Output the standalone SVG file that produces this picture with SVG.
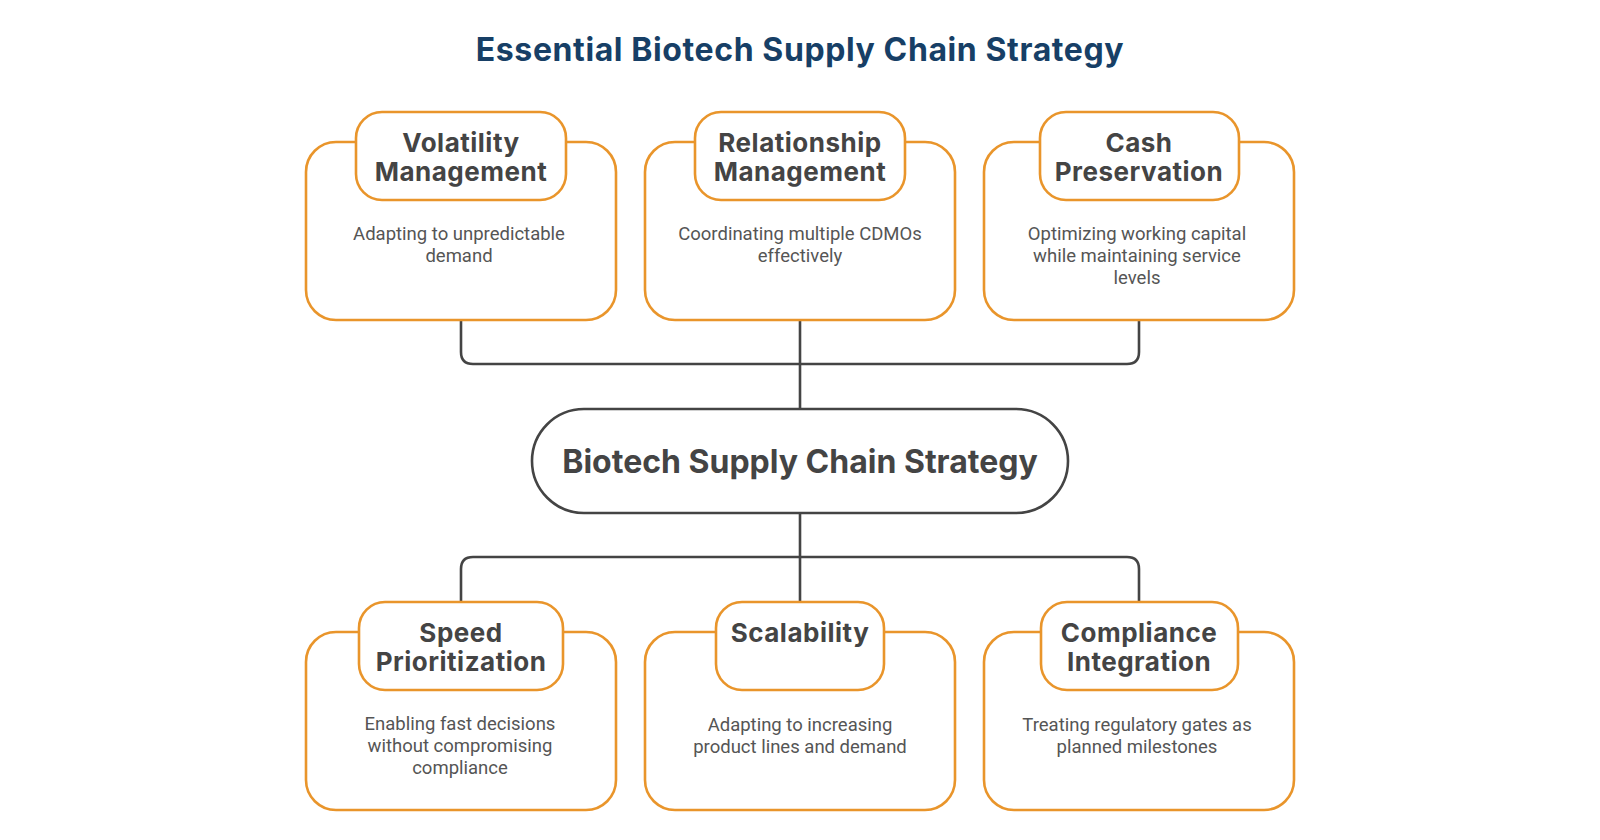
<svg xmlns="http://www.w3.org/2000/svg" width="1600" height="840" viewBox="0 0 1600 840">
<style>
.bg{fill:#ffffff}
.title{font-family:Inter,"DejaVu Sans",sans-serif;font-weight:700;font-size:32px;fill:#173f66;text-anchor:middle;letter-spacing:0.6px}
.card{fill:#ffffff;stroke:#e9952b;stroke-width:2.6}
.head{fill:#ffffff;stroke:#e9952b;stroke-width:2.6}
.ht{font-family:Inter,"DejaVu Sans",sans-serif;font-weight:700;font-size:26px;fill:#444444;text-anchor:middle;letter-spacing:0.5px}
.dt{font-family:Roboto,"Liberation Sans",sans-serif;font-size:18.5px;fill:#555555;text-anchor:middle}
.hub{fill:#ffffff;stroke:#444444;stroke-width:2.6}
.hubt{font-family:Inter,"DejaVu Sans",sans-serif;font-weight:700;font-size:32px;fill:#444444;text-anchor:middle}
.conn{fill:none;stroke:#444444;stroke-width:2.6}
</style>
<rect class="bg" x="0" y="0" width="1600" height="840"/>
<text class="title" x="800" y="61">Essential Biotech Supply Chain Strategy</text>

<g id="connectors">
<path class="conn" d="M461,320 V352 Q461,364 473,364 H1127 Q1139,364 1139,352 V320"/>
<path class="conn" d="M800,320 V409"/>
<path class="conn" d="M800,513 V602"/>
<path class="conn" d="M461,602 V569 Q461,557 473,557 H1127 Q1139,557 1139,569 V602"/>
</g>

<g id="hub">
<rect class="hub" x="532" y="409" width="536" height="104" rx="52"/>
<text class="hubt" x="800" y="473">Biotech Supply Chain Strategy</text>
</g>

<g id="volatility">
<rect class="card" x="306" y="142" width="310" height="178" rx="30"/>
<rect class="head" x="356" y="112" width="210" height="88" rx="26"/>
<text class="ht" x="461" y="152">Volatility</text>
<text class="ht" x="461" y="181">Management</text>
<text class="dt" x="459" y="240">Adapting to unpredictable</text>
<text class="dt" x="459" y="262">demand</text>
</g>

<g id="relationship">
<rect class="card" x="645" y="142" width="310" height="178" rx="30"/>
<rect class="head" x="695" y="112" width="210" height="88" rx="26"/>
<text class="ht" x="800" y="152">Relationship</text>
<text class="ht" x="800" y="181">Management</text>
<text class="dt" x="800" y="240">Coordinating multiple CDMOs</text>
<text class="dt" x="800" y="262">effectively</text>
</g>

<g id="cash">
<rect class="card" x="984" y="142" width="310" height="178" rx="30"/>
<rect class="head" x="1040" y="112" width="199" height="88" rx="26"/>
<text class="ht" x="1139" y="152">Cash</text>
<text class="ht" x="1139" y="181">Preservation</text>
<text class="dt" x="1137" y="240">Optimizing working capital</text>
<text class="dt" x="1137" y="262">while maintaining service</text>
<text class="dt" x="1137" y="284">levels</text>
</g>

<g id="speed">
<rect class="card" x="306" y="632" width="310" height="178" rx="30"/>
<rect class="head" x="359" y="602" width="204" height="88" rx="26"/>
<text class="ht" x="461" y="642">Speed</text>
<text class="ht" x="461" y="671">Prioritization</text>
<text class="dt" x="460" y="730">Enabling fast decisions</text>
<text class="dt" x="460" y="752">without compromising</text>
<text class="dt" x="460" y="774">compliance</text>
</g>

<g id="scalability">
<rect class="card" x="645" y="632" width="310" height="178" rx="30"/>
<rect class="head" x="716" y="602" width="168" height="88" rx="26"/>
<text class="ht" x="800" y="642">Scalability</text>
<text class="dt" x="800" y="731">Adapting to increasing</text>
<text class="dt" x="800" y="753">product lines and demand</text>
</g>

<g id="compliance">
<rect class="card" x="984" y="632" width="310" height="178" rx="30"/>
<rect class="head" x="1041" y="602" width="197" height="88" rx="26"/>
<text class="ht" x="1139" y="642">Compliance</text>
<text class="ht" x="1139" y="671">Integration</text>
<text class="dt" x="1137" y="731">Treating regulatory gates as</text>
<text class="dt" x="1137" y="753">planned milestones</text>
</g>
</svg>
